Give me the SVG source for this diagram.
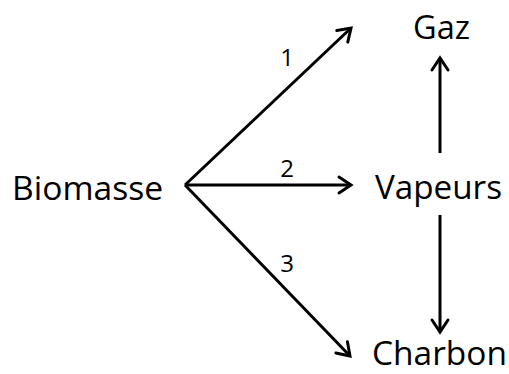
<svg xmlns="http://www.w3.org/2000/svg" width="509" height="374" viewBox="0 0 509 374">
<style>
.lbl{font-family:"Open Sans","Noto Sans",sans-serif;font-size:33px;fill:#000}
.num{font-family:"Open Sans","Noto Sans",sans-serif;font-size:24px;fill:#000;text-anchor:middle}
.edge{stroke:#000;stroke-width:3;fill:none}
</style>
<defs>
<marker id="ah" markerUnits="userSpaceOnUse" viewBox="-16 -12 20 24" refX="0" refY="0" markerWidth="20" markerHeight="24" orient="auto">
<path d="M-12,-8 L0,0 L-12,8" fill="none" stroke="#000" stroke-width="3" stroke-linecap="round" stroke-linejoin="miter"/>
</marker>
</defs>
<rect width="509" height="374" fill="#fff"/>
<g id="connectors">
<line class="edge" x1="185" y1="185" x2="351" y2="28" marker-end="url(#ah)"/>
<line class="edge" x1="185" y1="185" x2="351" y2="185" marker-end="url(#ah)"/>
<line class="edge" x1="185" y1="185" x2="350" y2="356" marker-end="url(#ah)"/>
<line class="edge" x1="440" y1="153" x2="440" y2="58" marker-end="url(#ah)"/>
<line class="edge" x1="440" y1="215" x2="440" y2="332" marker-end="url(#ah)"/>
<text class="num" x="287" y="66">1</text>
<text class="num" x="287" y="177">2</text>
<text class="num" x="287" y="272">3</text>
</g>
<g id="biomasse"><text class="lbl" x="12" y="200" textLength="151" lengthAdjust="spacingAndGlyphs">Biomasse</text></g>
<g id="gaz"><text class="lbl" x="413" y="39" textLength="57" lengthAdjust="spacingAndGlyphs">Gaz</text></g>
<g id="vapeurs"><text class="lbl" x="375" y="199" textLength="127" lengthAdjust="spacingAndGlyphs">Vapeurs</text></g>
<g id="charbon"><text class="lbl" x="372" y="365" textLength="135" lengthAdjust="spacingAndGlyphs">Charbon</text></g>
</svg>
